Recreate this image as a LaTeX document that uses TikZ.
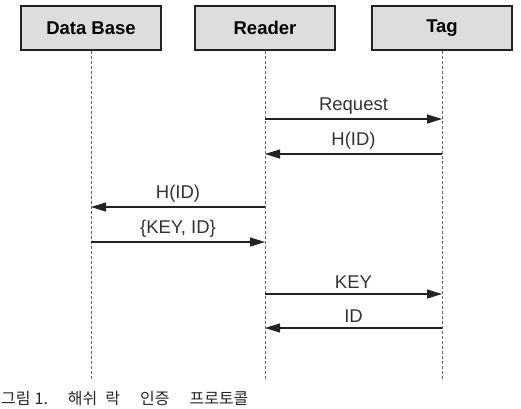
\documentclass[tikz,border=0pt]{standalone}
\usepackage{fontspec}
\setmainfont{Liberation Sans}
\newfontfamily\cjk{Noto Sans CJK KR}
\usetikzlibrary{arrows.meta,positioning}
\definecolor{boxGray}{RGB}{221,221,221}
\definecolor{lineInk}{RGB}{35,35,35}

\begin{document}
\begin{tikzpicture}[x=1pt,y=-1pt,
    actor/.style={draw=lineInk,line width=1.2pt,fill=boxGray,minimum width=140pt,
                  minimum height=44pt,inner sep=0pt,font=\bfseries\fontsize{18.5}{20}\selectfont},
    life/.style={dash pattern=on 3pt off 2pt,black!60,line width=0.9pt},
    msg/.style={-{Triangle[length=15pt,width=9pt]},lineInk,line width=1.4pt},
    lbl/.style={above=1pt,font=\fontsize{18.5}{20}\selectfont,text=black!80}]
  \useasboundingbox (0,0) rectangle (521,408);
  \node[actor] (db) at (91,28) {Data Base};
  \node[actor] (rd) at (265,28) {Reader};
  \node[actor] (tag) at (442,28) {Tag};
  % life lines
  \foreach \a in {db,rd,tag} {
    \coordinate (\a-end) at (\a.south |- 0,380);
    \draw[life] (\a.south) -- (\a-end);
  }
  % message points
  \foreach \i/\y in {1/119,2/154,3/207,4/242,5/294,6/328}
    \foreach \a in {db,rd,tag} \coordinate (\a\i) at (\a.south |- 0,\y);
  \draw[msg] (rd1) -- node[lbl] {Request} (tag1);
  \draw[msg] (tag2) -- node[lbl] {H(ID)} (rd2);
  \draw[msg] (rd3) -- node[lbl] {H(ID)} (db3);
  \draw[msg] (db4) -- node[lbl] {\{KEY, ID\}} (rd4);
  \draw[msg] (rd5) -- node[lbl] {KEY} (tag5);
  \draw[msg] (tag6) -- node[lbl] {ID} (rd6);
  \node[anchor=south west,inner sep=0pt,text=black!85,font=\cjk\fontsize{16}{18}\selectfont] (cap)
    at (1,406) {그림\hspace{4pt}1.\hspace{20pt}해쉬\hspace{8pt}락\hspace{20pt}인증\hspace{20pt}프로토콜};
\end{tikzpicture}
\end{document}
